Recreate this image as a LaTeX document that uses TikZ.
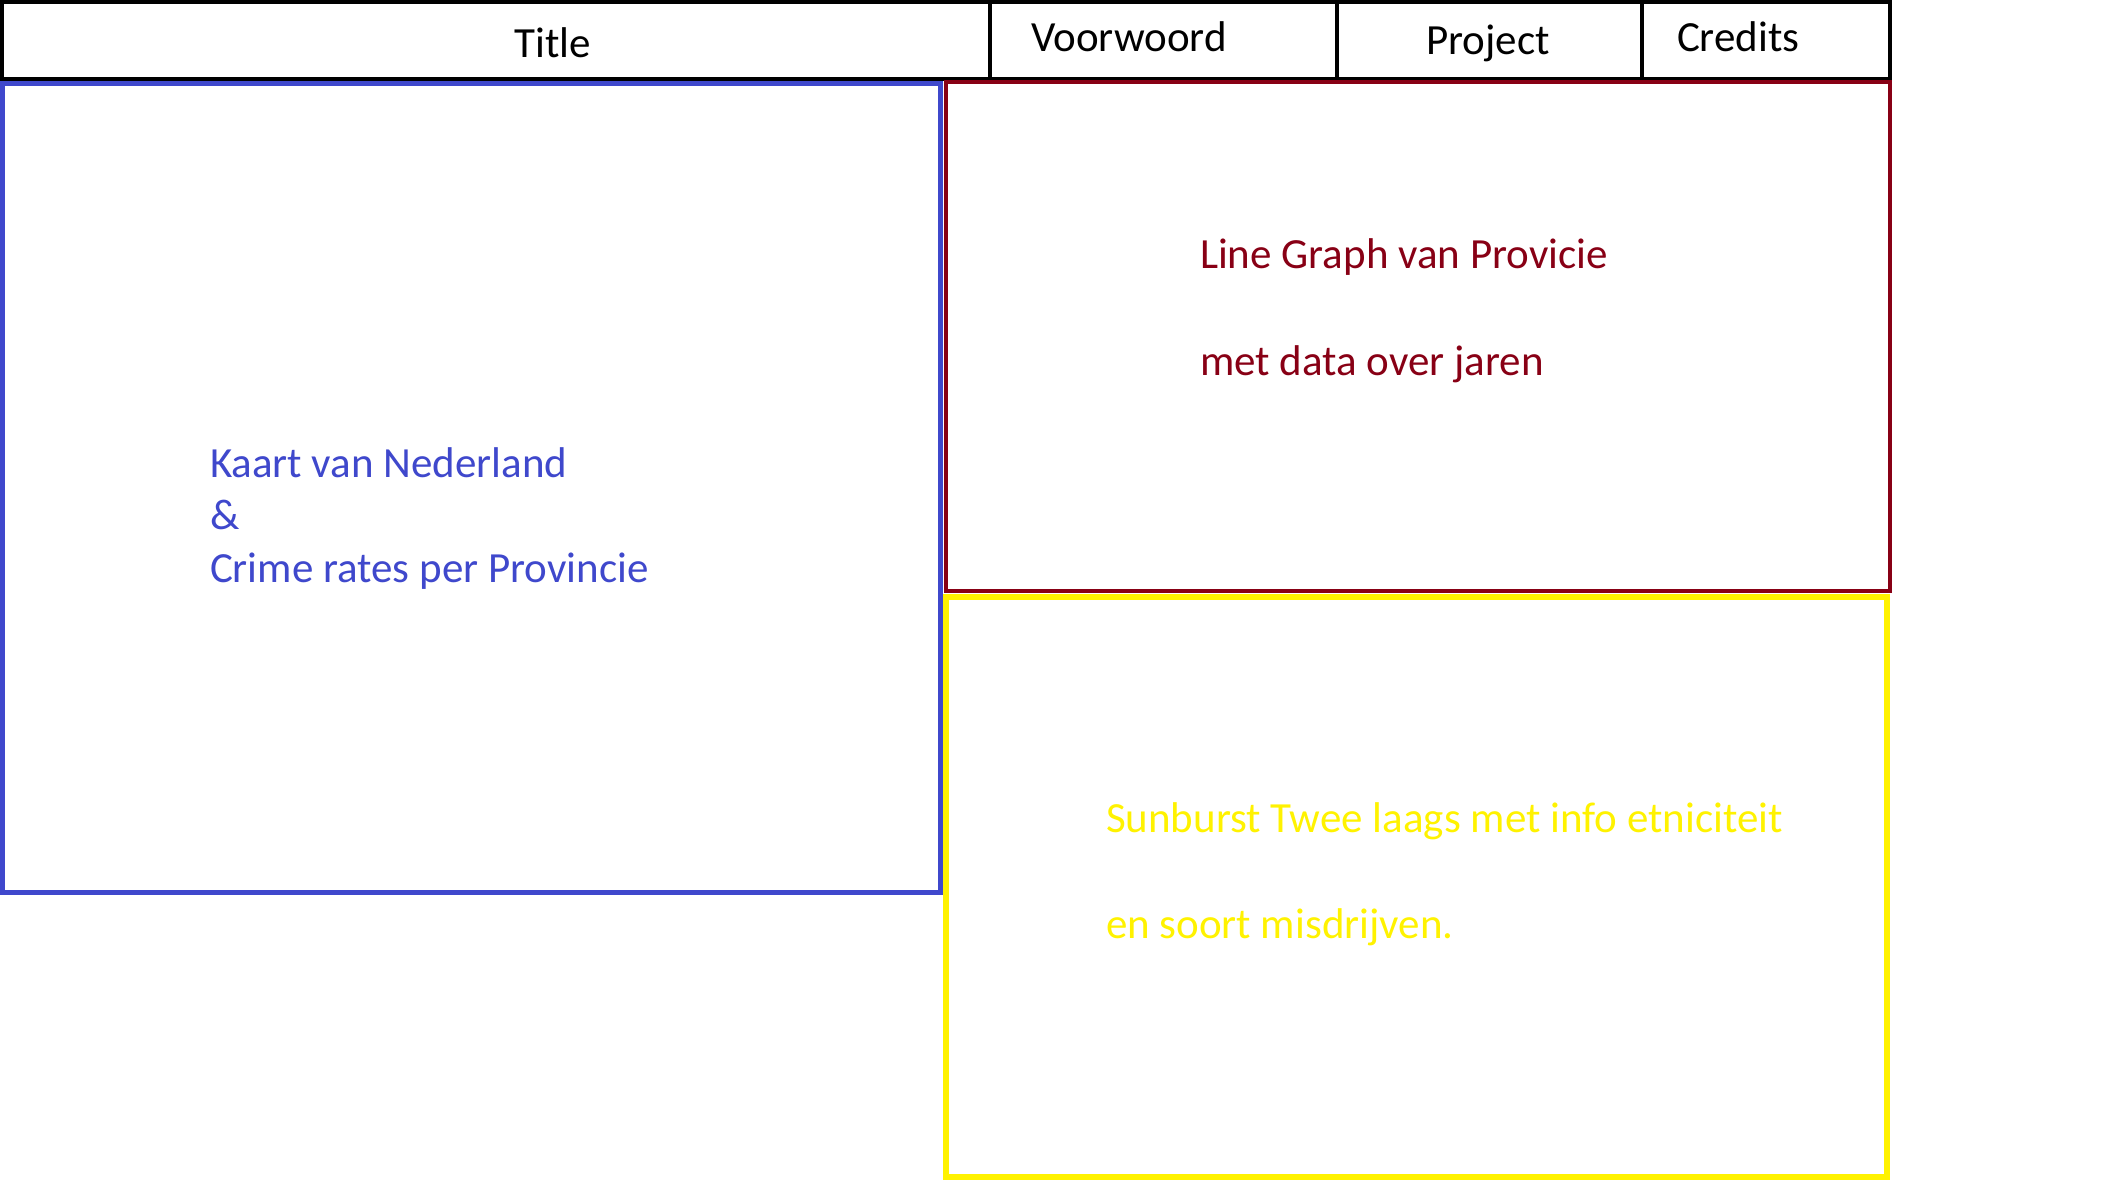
\documentclass[tikz,border=0pt]{standalone}
\usepackage{fontspec}
\setmainfont{Carlito}
\definecolor{kaartblauw}{HTML}{3F48CC}
\definecolor{grafiekrood}{HTML}{880015}
\definecolor{sunburstgeel}{HTML}{FFF200}

\begin{document}
\begin{tikzpicture}[x=1pt,y=-1pt]
   \tikzstyle{every node}=[font=\fontsize{43}{52}\selectfont, inner sep=0pt, outer sep=0pt]
   \tikzstyle{kader}=[draw, line width=4.5pt, anchor=north west]
   \tikzstyle{tekst}=[anchor=base west]

   \useasboundingbox (0,0) rectangle (2115,1193);

   % menubalk
   \node[kader, minimum width=988, minimum height=77] (titel) at (2,2) {};
   \node[kader, minimum width=347, minimum height=77] (voorwoord) at (990,2) {};
   \node[kader, minimum width=305, minimum height=77] (project) at (1337,2) {};
   \node[kader, minimum width=248, minimum height=77] (credits) at (1642,2) {};
   \node[anchor=base] (titeltekst) at (553,57.5) {Title};
   \node[tekst] (voorwoordtekst) at (1031,51.5) {Voorwoord};
   \node[anchor=base] (projecttekst) at (1488,54.5) {Project};
   \node[tekst] (creditstekst) at (1677,51.5) {Credits};

   % kaart
   \node[kader, draw=kaartblauw, line width=5pt, minimum width=938, minimum height=808] (kaart) at (2,84) {};
   \node[tekst, text=kaartblauw] (kaarttekst1) at (210,477) {Kaart van Nederland};
   \node[tekst, text=kaartblauw] (kaarttekst2) at (210,529) {\&};
   \node[tekst, text=kaartblauw] (kaarttekst3) at (210,582) {Crime rates per Provincie};

   % line graph
   \node[kader, draw=grafiekrood, minimum width=944, minimum height=509] (grafiek) at (946,82) {};
   \node[tekst, text=grafiekrood] (grafiektekst1) at (1200,269) {Line Graph van Provicie};
   \node[tekst, text=grafiekrood] (grafiektekst2) at (1200,375) {met data over jaren};

   % sunburst
   \node[kader, draw=sunburstgeel, line width=6pt, minimum width=941, minimum height=580] (sunburst) at (946,597) {};
   \node[tekst, text=sunburstgeel] (sunbursttekst1) at (1106,832) {Sunburst Twee laags met info etniciteit};
   \node[tekst, text=sunburstgeel] (sunbursttekst2) at (1106,938) {en soort misdrijven.};
\end{tikzpicture}
\end{document}
